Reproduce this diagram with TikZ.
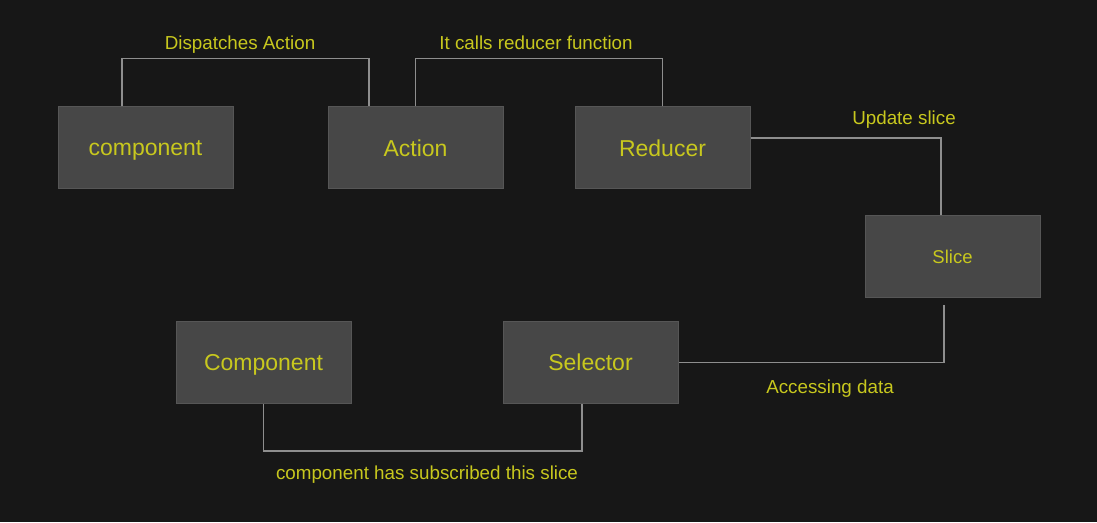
\documentclass[tikz,border=0pt]{standalone}
\usepackage{fontspec}
\setmainfont{Liberation Sans}
\usepackage{xcolor}
\usetikzlibrary{positioning,calc}
\definecolor{bgdark}{HTML}{171717}
\definecolor{boxgray}{HTML}{474747}
\definecolor{boxedge}{HTML}{565656}
\definecolor{linkgray}{HTML}{8E8E8E}
\definecolor{txtyellow}{HTML}{C8C81E}

\begin{document}
\begin{tikzpicture}[
    x=1pt, y=1pt,
    box/.style={rectangle, draw=boxedge, fill=boxgray, line width=1pt, minimum width=175pt, minimum height=82pt, text=txtyellow, text depth=0pt, font=\fontsize{23}{27}\selectfont},
    smallbox/.style={box, font=\fontsize{18.5}{22}\selectfont},
    lbl/.style={text=txtyellow, text depth=0pt, font=\fontsize{18.8}{22}\selectfont},
    link/.style={draw=linkgray, line width=1.3pt}
]
    \fill[bgdark] (0,0) rectangle (1097,522);

    \node[box] (comp) at (145.5, 374) {component};
    \node[box] (act) at (415.5, 374) {Action};
    \node[box] (red) at (662.5, 374) {Reducer};
    \node[smallbox] (slice) at (952.5, 265.5) {Slice};
    \node[box] (comp2) at (263.5, 159.5) {Component};
    \node[box] (sel) at (590.5, 159.5) {Selector};

    \coordinate (slicefoot) at ([xshift=-8.5pt, yshift=-7pt]slice.south);

    \draw[link] ([xshift=-23.5pt]comp.north) -- ++(0,48) -| ([xshift=-46.5pt]act.north);
    \draw[link] (act.north) -- ++(0,48) -| (red.north);
    \draw[link] ([yshift=10pt]red.east) -| ([xshift=-11.5pt]slice.north);
    \draw[link] (slicefoot) |- (sel.east);
    \draw[link] (comp2.south) -- ++(0,-47) -| ([xshift=-8.5pt]sel.south);

    \node[lbl] (lbldispatch) at (240, 479) {Dispatches Action};
    \node[lbl] (lblcalls) at (536, 479) {It calls reducer function};
    \node[lbl] (lblupdate) at (904, 404) {Update slice};
    \node[lbl] (lblaccess) at (830, 135) {Accessing data};
    \node[lbl] (lblsub) at (427, 49) {component has subscribed this slice};
\end{tikzpicture}
\end{document}
